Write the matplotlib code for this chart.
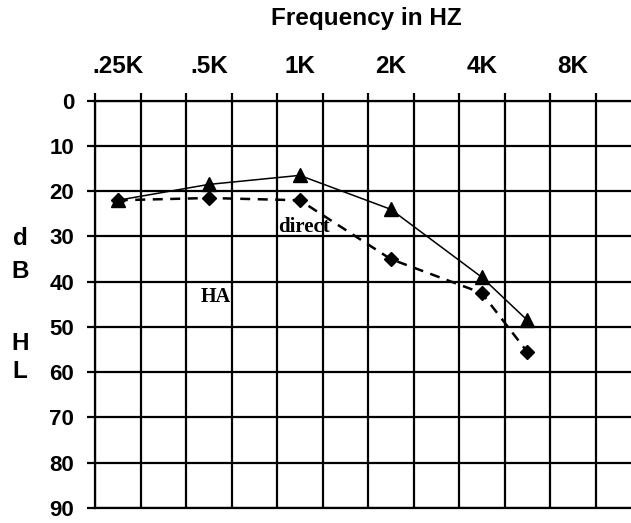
import matplotlib.pyplot as plt
import numpy as np

# ── data ─────────────────────────────────────────────────────────────────────

freq_labels = [".25K", ".5K", "1K", "2K", "4K", "8K"]
freq_pos = [0, 1, 2, 3, 4, 5]          # octaves above 250 Hz

# measured points (6K sits half an octave above 4K)
test_pos = [0, 1, 2, 3, 4, 4.5]
aided_db = [22, 18.5, 16.5, 24, 39, 48.5]     # triangles, solid
direct_db = [22, 21.5, 22, 35, 42.5, 55.5]    # diamonds, dashed

db_ticks = [0, 10, 20, 30, 40, 50, 60, 70, 80, 90]
side_letters = ["d", "B", "H", "L"]
side_letter_y = [239, 271, 343, 372]   # pixel rows of the vertical label

# ── figure ───────────────────────────────────────────────────────────────────

W, H = 631, 523
fig = plt.figure(figsize=(W / 100, H / 100), dpi=100)
ax = fig.add_axes([95 / W, 1 - 508 / H, 1 - 95 / W, (508 - 100.7) / H])

lw_grid = 1.6
fs = 17.5
ax.set_xlim(-0.25, 5.64)
ax.set_ylim(90, 0)

# half-octave grid, ticks poke out above
ax.set_xticks(np.arange(-0.25, 5.3, 0.5), minor=True)
ax.set_xticks(freq_pos)
ax.set_xticklabels(freq_labels)
ax.xaxis.tick_top()
ax.tick_params(axis="x", which="major", length=0, pad=16,
               labelsize=fs)
ax.tick_params(axis="x", which="minor", length=6, width=lw_grid,
               top=True, bottom=False)
ax.grid(True, axis="x", which="minor", color="black", linewidth=lw_grid)

ax.set_yticks(db_ticks)
ax.tick_params(axis="y", which="major", length=6, width=lw_grid, pad=9,
               labelsize=16)
ax.grid(True, axis="y", which="major", color="black", linewidth=lw_grid)

for lab in ax.get_xticklabels() + ax.get_yticklabels():
    lab.set_fontweight("bold")
    lab.set_family("Liberation Sans")

for side in ["left", "top", "bottom"]:
    ax.spines[side].set_linewidth(lw_grid)
ax.spines["right"].set_visible(False)

# ── series ───────────────────────────────────────────────────────────────────

ax.plot(test_pos, aided_db, color="black", linewidth=1.1,
        marker="^", markersize=10, zorder=3, clip_on=False)
ax.plot(test_pos, direct_db, color="black", linewidth=1.8,
        linestyle=(0, (4, 3)), marker="D", markersize=7, zorder=3,
        clip_on=False)

# ── annotations ──────────────────────────────────────────────────────────────

ax.text(1.08, 43.3, "HA", fontsize=14.5, fontweight="bold",
        family="Liberation Serif", ha="center", va="center")
ax.text(1.76, 27.8, "direct", fontsize=15, fontweight="bold",
        family="Liberation Serif", ha="left", va="center")

fig.text(366 / W, 1 - 18 / H, "Frequency in HZ", fontsize=fs,
         fontweight="bold", family="Liberation Sans",
         ha="center", va="center")

for letter, py in zip(side_letters, side_letter_y):
    fig.text(20 / W, 1 - py / H, letter, fontsize=fs, fontweight="bold",
             family="Liberation Sans", ha="center", va="center")

fig.savefig("out.png", dpi=100)
